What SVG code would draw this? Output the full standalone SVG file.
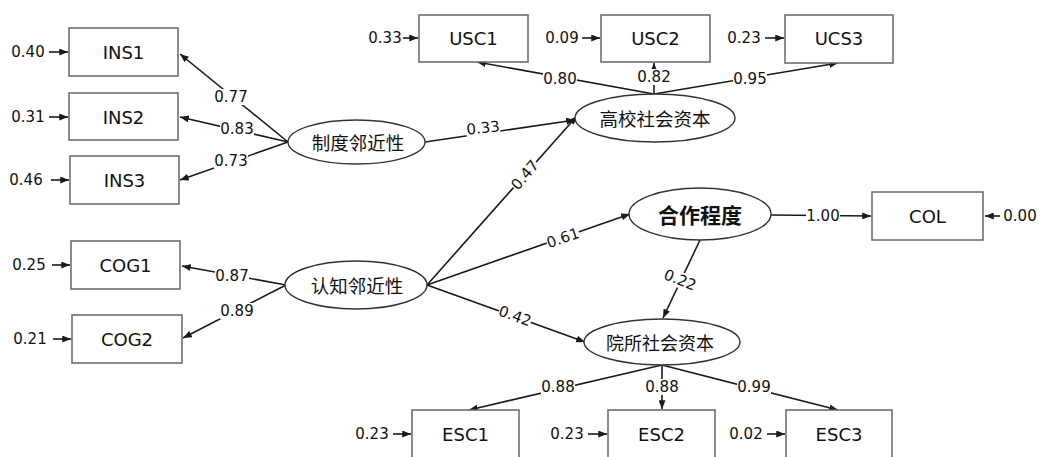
<svg xmlns="http://www.w3.org/2000/svg" width="1040" height="457" viewBox="0 0 1040 457">
<style>
.box{fill:#fff;stroke:#666;stroke-width:1.5}
.ell{fill:#fff;stroke:#333;stroke-width:1.4}
.bt{font-family:"DejaVu Sans","Liberation Sans",sans-serif;font-size:18px;fill:#111;text-anchor:middle;dominant-baseline:central}
.ct{font-family:"Noto Sans CJK SC",sans-serif;font-size:18px;fill:#111;text-anchor:middle;dominant-baseline:central}
.num{font-family:"DejaVu Sans","Liberation Sans",sans-serif;font-size:15px;fill:#111;text-anchor:middle;dominant-baseline:central}
.bg{fill:#fff}
.ln{stroke:#1a1a1a;stroke-width:1.6;fill:none;marker-end:url(#ah)}
</style>
<defs>
<marker id="ah" viewBox="0 0 10 8" refX="10" refY="4" markerWidth="9" markerHeight="7" markerUnits="userSpaceOnUse" orient="auto">
<path d="M0,0 L10,4 L0,8 z" fill="#1a1a1a"/>
</marker>
<rect id="lb" x="-17" y="-8" width="34" height="16"/>
</defs>
<rect width="1040" height="457" fill="#fff"/>

<g id="connectors">
<line class="ln" x1="49" y1="52" x2="68" y2="52"/>
<line class="ln" x1="49" y1="117" x2="68" y2="117"/>
<line class="ln" x1="51" y1="180" x2="69" y2="180"/>
<line class="ln" x1="52" y1="265" x2="70" y2="265"/>
<line class="ln" x1="53" y1="339" x2="71" y2="339"/>
<line class="ln" x1="403" y1="38" x2="418" y2="38"/>
<line class="ln" x1="582" y1="38" x2="600" y2="38"/>
<line class="ln" x1="765" y1="38" x2="784" y2="38"/>
<line class="ln" x1="393" y1="434" x2="411" y2="434"/>
<line class="ln" x1="588" y1="434" x2="607" y2="434"/>
<line class="ln" x1="767" y1="434" x2="785" y2="434"/>
<line class="ln" x1="1000" y1="216" x2="985" y2="216"/>
<line class="ln" x1="288" y1="142" x2="180" y2="54"/>
<line class="ln" x1="288" y1="142" x2="180" y2="117"/>
<line class="ln" x1="288" y1="142" x2="180" y2="180"/>
<line class="ln" x1="286" y1="285" x2="182" y2="266"/>
<line class="ln" x1="286" y1="285" x2="183" y2="338"/>
<line class="ln" x1="425" y1="142" x2="575" y2="120"/>
<line class="ln" x1="427" y1="285" x2="577" y2="116"/>
<line class="ln" x1="427" y1="285" x2="630" y2="214"/>
<line class="ln" x1="427" y1="285" x2="585" y2="342"/>
<line class="ln" x1="700" y1="240" x2="663" y2="318"/>
<line class="ln" x1="771" y1="215" x2="871" y2="216"/>
<line class="ln" x1="654" y1="94" x2="477" y2="62"/>
<line class="ln" x1="654" y1="94" x2="654" y2="63"/>
<line class="ln" x1="654" y1="94" x2="838" y2="63"/>
<line class="ln" x1="662" y1="365" x2="469" y2="410"/>
<line class="ln" x1="662" y1="365" x2="662" y2="409"/>
<line class="ln" x1="662" y1="365" x2="838" y2="410"/>
</g>

<g id="error-labels">
<text class="num" x="28" y="52">0.40</text>
<text class="num" x="28" y="117">0.31</text>
<text class="num" x="26" y="180">0.46</text>
<text class="num" x="29" y="265">0.25</text>
<text class="num" x="30" y="339">0.21</text>
<text class="num" x="385" y="38">0.33</text>
<text class="num" x="562" y="38">0.09</text>
<text class="num" x="744" y="38">0.23</text>
<text class="num" x="372" y="434">0.23</text>
<text class="num" x="567" y="434">0.23</text>
<text class="num" x="746" y="434">0.02</text>
<text class="num" x="1020" y="216">0.00</text>
</g>

<g id="path-labels">
<g transform="translate(231 97)"><use href="#lb" class="bg"/><text class="num" x="0" y="0">0.77</text></g>
<g transform="translate(237 129)"><use href="#lb" class="bg"/><text class="num" x="0" y="0">0.83</text></g>
<g transform="translate(231 161)"><use href="#lb" class="bg"/><text class="num" x="0" y="0">0.73</text></g>
<g transform="translate(232 276)"><use href="#lb" class="bg"/><text class="num" x="0" y="0">0.87</text></g>
<g transform="translate(237 311)"><use href="#lb" class="bg"/><text class="num" x="0" y="0">0.89</text></g>
<g transform="translate(483 128) rotate(-6)"><use href="#lb" class="bg"/><text class="num" x="0" y="0">0.33</text></g>
<g transform="translate(525 175) rotate(-50)"><use href="#lb" class="bg"/><text class="num" x="0" y="0">0.47</text></g>
<g transform="translate(563 238) rotate(-19)"><use href="#lb" class="bg"/><text class="num" x="0" y="0">0.61</text></g>
<g transform="translate(515 316) rotate(20)"><use href="#lb" class="bg"/><text class="num" x="0" y="0">0.42</text></g>
<g transform="translate(680 280) rotate(22)"><use href="#lb" class="bg"/><text class="num" x="0" y="0">0.22</text></g>
<g transform="translate(823 216)"><use href="#lb" class="bg"/><text class="num" x="0" y="0">1.00</text></g>
<g transform="translate(560 79)"><use href="#lb" class="bg"/><text class="num" x="0" y="0">0.80</text></g>
<g transform="translate(654 77)"><use href="#lb" class="bg"/><text class="num" x="0" y="0">0.82</text></g>
<g transform="translate(750 79)"><use href="#lb" class="bg"/><text class="num" x="0" y="0">0.95</text></g>
<g transform="translate(558 387)"><use href="#lb" class="bg"/><text class="num" x="0" y="0">0.88</text></g>
<g transform="translate(662 387)"><use href="#lb" class="bg"/><text class="num" x="0" y="0">0.88</text></g>
<g transform="translate(754 387)"><use href="#lb" class="bg"/><text class="num" x="0" y="0">0.99</text></g>
</g>

<g id="INS1"><rect class="box" x="69" y="28" width="109" height="48"/><text class="bt" x="123.5" y="52">INS1</text></g>
<g id="INS2"><rect class="box" x="69" y="93" width="109" height="47"/><text class="bt" x="123.5" y="117">INS2</text></g>
<g id="INS3"><rect class="box" x="70" y="156" width="109" height="48"/><text class="bt" x="124.5" y="180">INS3</text></g>
<g id="COG1"><rect class="box" x="71" y="241" width="109" height="48"/><text class="bt" x="125.5" y="265">COG1</text></g>
<g id="COG2"><rect class="box" x="72" y="315" width="110" height="48"/><text class="bt" x="127" y="339">COG2</text></g>
<g id="USC1"><rect class="box" x="419" y="15" width="109" height="47"/><text class="bt" x="473.5" y="38">USC1</text></g>
<g id="USC2"><rect class="box" x="601" y="15" width="109" height="47"/><text class="bt" x="655.5" y="38">USC2</text></g>
<g id="UCS3"><rect class="box" x="785" y="15" width="108" height="48"/><text class="bt" x="839" y="38">UCS3</text></g>
<g id="COL"><rect class="box" x="872" y="192" width="111" height="48"/><text class="bt" x="927.5" y="216">COL</text></g>
<g id="ESC1"><rect class="box" x="412" y="410" width="107" height="50"/><text class="bt" x="465.5" y="434">ESC1</text></g>
<g id="ESC2"><rect class="box" x="608" y="410" width="107" height="50"/><text class="bt" x="661.5" y="434">ESC2</text></g>
<g id="ESC3"><rect class="box" x="786" y="410" width="106" height="50"/><text class="bt" x="839" y="434">ESC3</text></g>

<g id="zhidu"><ellipse class="ell" cx="356.5" cy="142" rx="68.5" ry="22"/><text class="ct" x="358" y="142" style="font-size:18.5px">制度邻近性</text></g>
<g id="renzhi"><ellipse class="ell" cx="356" cy="285" rx="71" ry="24"/><text class="ct" x="357" y="285" style="font-size:18.5px">认知邻近性</text></g>
<g id="gaoxiao"><ellipse class="ell" cx="655" cy="118" rx="80" ry="24"/><text class="ct" x="655" y="118" style="font-size:18.5px">高校社会资本</text></g>
<g id="hezuo"><ellipse class="ell" cx="700" cy="214" rx="71" ry="26"/><text class="ct" x="700" y="214" style="font-size:21px;font-weight:bold">合作程度</text></g>
<g id="yuansuo"><ellipse class="ell" cx="662" cy="342" rx="78" ry="23"/><text class="ct" x="660" y="342">院所社会资本</text></g>
</svg>
